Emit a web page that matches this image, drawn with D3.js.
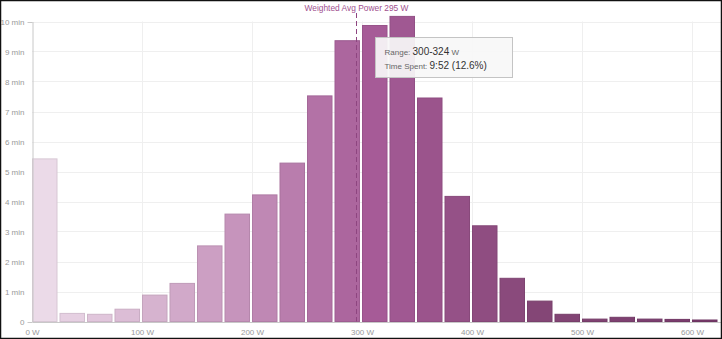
<!DOCTYPE html>
<html>
<head>
<meta charset="utf-8">
<script src="https://cdn.jsdelivr.net/npm/d3@7"></script>
<style>
  html, body { margin: 0; padding: 0; background: #fff; }
  svg { display: block; font-family: "Liberation Sans", Arial, sans-serif; }
</style>
</head>
<body>
<svg id="chart" width="722" height="339"></svg>
<script>
// Power zones: 25 W bins, time spent in minutes
const binStarts = [0, 25, 50, 75, 100, 125, 150, 175, 200, 225, 250, 275, 300,
                   325, 350, 375, 400, 425, 450, 475, 500, 525, 550, 575, 600];
const binWidth = 25;
const minutes = [5.42, 0.27, 0.24, 0.41, 0.88, 1.27, 2.52, 3.58, 4.22, 5.28, 7.52, 9.36, 9.867,
                 10.17, 7.45, 4.17, 3.19, 1.44, 0.68, 0.24, 0.08, 0.14, 0.08, 0.07, 0.05];
const yTicks = [0, 1, 2, 3, 4, 5, 6, 7, 8, 9, 10];
const xTicks = [0, 100, 200, 300, 400, 500, 600];
const weightedAvgPower = 295;
const highlightedBin = 12;

const svg = d3.select("#chart");
const W = 722, H = 339;
const FONT = "'Liberation Sans', Arial, sans-serif";

const x = d3.scaleLinear().domain([0, 626]).range([32, 720.6]);
const y = d3.scaleLinear().domain([0, 10]).range([321.5, 21.5]);

const color = d3.scaleLinear()
  .domain([0, 6, 12, 18, 24])
  .range(["#ebdae8", "#cc9fc3", "#a65b97", "#844676", "#783a6b"]);

// horizontal gridlines
svg.append("g").selectAll("line").data(yTicks.slice(1)).join("line")
  .attr("x1", x(0)).attr("x2", W)
  .attr("y1", d => Math.round(y(d)) + 0.5).attr("y2", d => Math.round(y(d)) + 0.5)
  .attr("stroke", "#efefef");

// vertical gridlines
svg.append("g").selectAll("line").data(xTicks.slice(1)).join("line")
  .attr("x1", d => Math.round(x(d)) + 0.5).attr("x2", d => Math.round(x(d)) + 0.5)
  .attr("y1", y(10)).attr("y2", y(0))
  .attr("stroke", "#efefef");

// bars
const bw = x(binWidth) - x(0);
svg.append("g").selectAll("rect").data(minutes).join("rect")
  .attr("x", (d, i) => x(binStarts[i]) + 0.5)
  .attr("width", bw - 3)
  .attr("y", d => y(d))
  .attr("height", d => y(0) - y(d))
  .attr("fill", (d, i) => color(i))
  .attr("stroke", (d, i) => d3.color(color(i)).darker(0.25))
  .attr("stroke-width", 1);

// y axis
const yAxis = d3.axisLeft(y).tickValues(yTicks)
  .tickFormat(d => d === 0 ? "0" : d + " min").tickSize(0).tickPadding(8);
const gy = svg.append("g").attr("transform", "translate(32.5,0)").call(yAxis);
gy.select(".domain").attr("stroke", "#c8c8c8");
gy.selectAll("text").attr("fill", "#999").style("font-size", "8px").style("font-family", FONT);
[0, 10].forEach(v => {
  gy.append("line").attr("x1", -5).attr("x2", 0)
    .attr("y1", Math.round(y(v)) + 0.5).attr("y2", Math.round(y(v)) + 0.5)
    .attr("stroke", "#c8c8c8");
});

// x axis
const xAxis = d3.axisBottom(x).tickValues(xTicks).tickFormat(d => d + " W")
  .tickSize(0).tickPadding(7);
const gx = svg.append("g").attr("transform", "translate(0,322)").call(xAxis);
gx.select(".domain").attr("stroke", "#c8c8c8");
gx.selectAll("text").attr("fill", "#999").style("font-size", "8px").style("font-family", FONT);

// weighted average power marker
svg.append("line")
  .attr("x1", x(weightedAvgPower)).attr("x2", x(weightedAvgPower))
  .attr("y1", 13).attr("y2", y(0))
  .attr("stroke", "#8e4580").attr("stroke-width", 1)
  .attr("stroke-dasharray", "5,3");
svg.append("text")
  .attr("x", x(weightedAvgPower)).attr("y", 11)
  .attr("text-anchor", "middle")
  .attr("fill", "#a0508f").style("font-size", "8.4px")
  .text("Weighted Avg Power " + weightedAvgPower + " W");

// tooltip for the highlighted zone
const total = d3.sum(minutes);
const hv = minutes[highlightedBin];
const totalSec = Math.round(hv * 60);
const mm = Math.floor(totalSec / 60), ss = totalSec % 60;
const timeStr = mm + ":" + String(ss).padStart(2, "0");
const pct = (hv / total * 100).toFixed(1);
const lo = binStarts[highlightedBin], hi = lo + binWidth - 1;

const tip = svg.append("g").attr("transform", "translate(375.5,37.5)");
tip.append("rect").attr("width", 137).attr("height", 40)
  .attr("fill", "#f7f7f7").attr("fill-opacity", 0.93)
  .attr("stroke", "#c4c4c4");
const t1 = tip.append("text").attr("x", 9).attr("y", 17);
t1.append("tspan").attr("fill", "#666").style("font-size", "8px").text("Range: ");
t1.append("tspan").attr("fill", "#333").style("font-size", "10px").text(lo + "-" + hi);
t1.append("tspan").attr("fill", "#666").style("font-size", "8px").text(" W");
const t2 = tip.append("text").attr("x", 9).attr("y", 31);
t2.append("tspan").attr("fill", "#666").style("font-size", "8px").text("Time Spent: ");
t2.append("tspan").attr("fill", "#333").style("font-size", "10px").text(timeStr + " (" + pct + "%)");

// frame
svg.append("rect").attr("x", 0.5).attr("y", 0.5).attr("width", W - 1).attr("height", H - 1)
  .attr("fill", "none").attr("stroke", "#111").attr("stroke-width", 1.5);
</script>
</body>
</html>
